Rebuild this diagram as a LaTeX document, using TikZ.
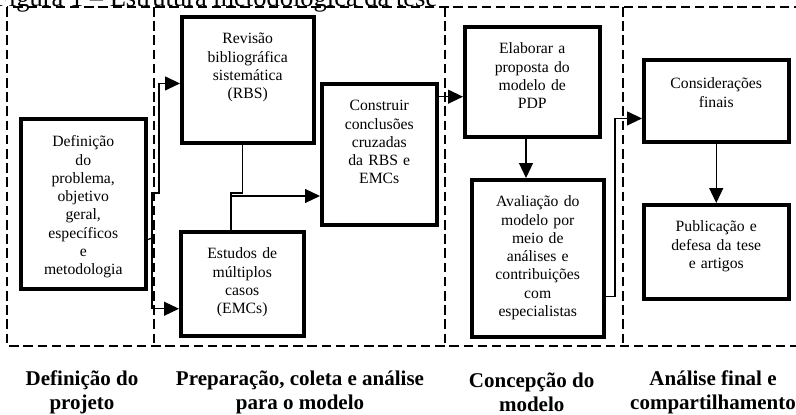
\documentclass[tikz,border=0pt]{standalone}
\usepackage{fontspec}
\setmainfont{Liberation Serif}
\usepackage{tikz}
\usetikzlibrary{arrows.meta}

\begin{document}
\begin{tikzpicture}[x=1pt, y=-1pt,
	box/.style={draw, line width=3.5pt, inner sep=0pt, align=center, anchor=north west, text height=27pt, font=\fontsize{15.7pt}{18.3pt}\selectfont},
	link/.style={line width=1.2pt},
	arrow/.style={line width=1.2pt, -{Triangle[length=15pt, width=14pt]}},
	phase/.style={line width=2.2pt, dash pattern=on 9.5pt off 4.7pt},
	stage/.style={align=center, font=\fontsize{21pt}{24pt}\selectfont\bfseries}]
\useasboundingbox (0,0) rectangle (796,415);
\node [anchor=base west, inner sep=0pt, font=\fontsize{26.5pt}{30pt}\selectfont] (title) at (-6,6) {Figura 1 – Estrutura metodológica da tese};
\draw [phase] (7,7) rectangle (805,345.7);
\draw [phase] (154,7) -- (154,345.7);
\draw [phase] (445,7) -- (445,345.7);
\draw [phase] (623,7) -- (623,345.7);

\node [box, text width=125pt, text height=28pt, text depth=142pt] (a) at (19,117) {Definição\\do\\problema,\\objetivo\\geral,\\específicos\\e\\metodologia};
\node [box, text width=132pt, text depth=99pt] (b) at (180,15) {Revisão\\bibliográfica\\sistemática\\(RBS)};
\node [box, text width=123pt, text depth=77pt] (c) at (179,230) {Estudos de\\múltiplos\\casos\\(EMCs)};
\node [box, text width=115pt, text depth=114pt] (d) at (320,82) {Construir\\conclusões\\cruzadas\\da RBS e\\EMCs};
\node [box, text width=135pt, text depth=83pt] (e) at (463,25) {Elaborar a\\proposta do\\modelo de\\PDP};
\node [box, text width=132pt, text depth=130pt] (f) at (470,178) {Avaliação do\\modelo por\\meio de\\análises e\\contribuições\\com\\especialistas};
\node [box, text width=145pt, text height=29pt, text depth=53pt] (g) at (642,58) {Considerações\\finais};
\node [box, text width=145pt, text depth=67pt] (h) at (642,203) {Publicação e\\defesa da tese\\e artigos};

\coordinate (s) at (152,238);
\draw [link] ([yshift=-36pt]a.east) -- (s);
\draw [arrow] (s) |- ([yshift=-25pt]c.west);
\draw [arrow] (s) |- (159,193) |- ([yshift=-3.7pt]b.west);
\coordinate (j) at (231,196);
\draw [link] ([xshift=-5.3pt]b.south) |- (231,193) -- (j |- c.north);
\draw [arrow] (j) -- (j -| d.west);
\coordinate (k) at (440,96.7);
\draw [arrow] (k -| d.east) -- (k -| e.west);
\coordinate (m) at (526,150);
\draw [arrow] (m |- e.south) -- (m |- f.north);
\coordinate (n) at (615,296.7);
\draw [arrow] (n -| f.east) -- (n) |- ([yshift=-17.7pt]g.west);
\draw [arrow] (g) -- (h);

\node [stage] (p1) at (82,392) {Definição do\\projeto};
\node [stage] (p2) at (300,392) {Preparação, coleta e análise\\para o modelo};
\node [stage] (p3) at (531.7,392) {Concepção do\\modelo};
\node [stage] (p4) at (713,392) {Análise final e\\compartilhamento};
\end{tikzpicture}
\end{document}
